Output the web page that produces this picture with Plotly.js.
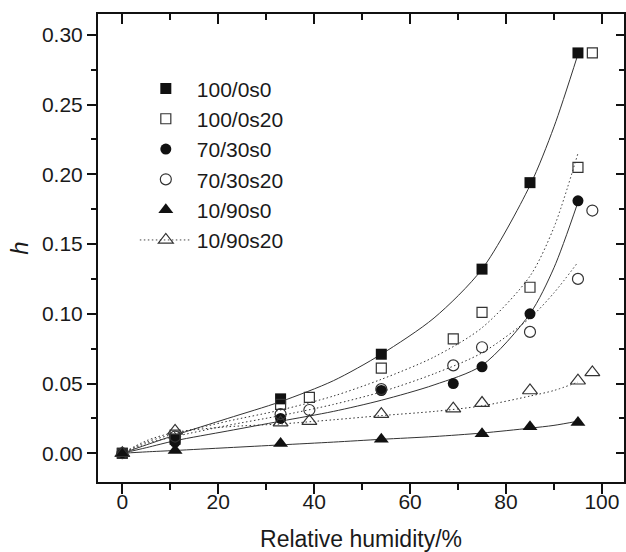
<!DOCTYPE html>
<html>
<head>
<meta charset="utf-8">
<script src="https://cdn.plot.ly/plotly-3.0.1.min.js"></script>
<style>html,body{margin:0;padding:0;background:#fff;}#chart{width:626px;height:552px;}</style>
</head>
<body>
<div id="chart"></div>
<script>
// ---- measured data points ----
const names = ["100/0s0", "100/0s20", "70/30s0", "70/30s20", "10/90s0", "10/90s20"];

const x_100_0s0 = [0, 11, 33, 54, 75, 85, 95];
const y_100_0s0 = [0, 0.010, 0.039, 0.071, 0.132, 0.194, 0.287];

const x_100_0s20 = [0, 11, 33, 39, 54, 69, 75, 85, 95, 98];
const y_100_0s20 = [0, 0.013, 0.035, 0.040, 0.061, 0.082, 0.101, 0.119, 0.205, 0.287];

const x_70_30s0 = [0, 11, 33, 54, 69, 75, 85, 95];
const y_70_30s0 = [0, 0.008, 0.025, 0.045, 0.050, 0.062, 0.100, 0.181];

const x_70_30s20 = [0, 11, 33, 39, 54, 69, 75, 85, 95, 98];
const y_70_30s20 = [0, 0.012, 0.028, 0.031, 0.046, 0.063, 0.076, 0.087, 0.125, 0.174];

const x_10_90s0 = [0, 11, 33, 54, 75, 85, 95];
const y_10_90s0 = [0, 0.002, 0.007, 0.010, 0.014, 0.019, 0.022];

const x_10_90s20 = [0, 11, 33, 39, 54, 69, 75, 85, 95, 98];
const y_10_90s20 = [0, 0.016, 0.022, 0.023, 0.028, 0.032, 0.036, 0.045, 0.052, 0.058];

// ---- fitted curves, values ----
const fitX = [0, 5, 11, 22, 33, 44, 54, 65, 75, 85, 90, 95];
const fit_100_0s0  = [0, 0.006, 0.013, 0.025, 0.037, 0.052, 0.071, 0.097, 0.132, 0.192, 0.234, 0.286];
const fit_100_0s20 = [0, 0.008, 0.014, 0.023, 0.031, 0.041, 0.053, 0.069, 0.090, 0.127, 0.162, 0.215];
const fit_70_30s0  = [0, 0.004, 0.009, 0.016, 0.023, 0.030, 0.038, 0.049, 0.063, 0.100, 0.133, 0.180];
const fit_70_30s20 = [0, 0.007, 0.012, 0.020, 0.027, 0.035, 0.044, 0.057, 0.072, 0.097, 0.115, 0.137];
const fit_10_90s0  = [0, 0.001, 0.002, 0.004, 0.006, 0.008, 0.010, 0.012, 0.0145, 0.018, 0.020, 0.023];
const fit_10_90s20 = [0, 0.009, 0.015, 0.019, 0.021, 0.024, 0.027, 0.030, 0.034, 0.041, 0.045, 0.051];

const xTitle = "Relative humidity/%";
const yTitle = "<i>h</i>";

const FONT = "Liberation Sans, Arial, Helvetica, sans-serif";
const INK = "#1a1a1a";
const DOT = "1.5px,2.5px";

function fit(y, dash) {
  return {x: fitX, y: y, mode: "lines", line: {shape: "spline", smoothing: 0.8, color: "#333", width: 1, dash: dash},
          showlegend: false, hoverinfo: "skip"};
}
function pts(x, y, name, symbol, size, show) {
  const open = symbol.indexOf("open") >= 0;
  return {x: x, y: y, name: name, mode: "markers", showlegend: show,
          marker: {symbol: symbol, size: size, color: open ? "#333" : "#111", line: {width: open ? 1.2 : 0, color: "#333"}}};
}

const traces = [
  fit(fit_100_0s0, "solid"),
  fit(fit_100_0s20, DOT),
  fit(fit_70_30s0, "solid"),
  fit(fit_70_30s20, DOT),
  fit(fit_10_90s0, "solid"),
  fit(fit_10_90s20, DOT),
  pts(x_100_0s0, y_100_0s0, names[0], "square", 11, true),
  pts(x_100_0s20, y_100_0s20, names[1], "square-open", 10, true),
  pts(x_70_30s0, y_70_30s0, names[2], "circle", 11, true),
  pts(x_70_30s20, y_70_30s20, names[3], "circle-open", 11, true),
  pts(x_10_90s0, y_10_90s0, names[4], "triangle-up", 13, true),
  pts(x_10_90s20, y_10_90s20, names[5], "triangle-up-open", 13, false),
  {x: [null], y: [null], name: names[5], mode: "lines+markers",
   line: {color: "#444", width: 1, dash: DOT},
   marker: {symbol: "triangle-up-open", size: 13, color: "#333", line: {width: 1.2, color: "#333"}}},
  {x: [null], y: [null], xaxis: "x2", yaxis: "y2", mode: "markers", showlegend: false, hoverinfo: "skip"}
];

const xr = [-5.07, 104.6], yr = [-0.0206, 0.3149];
const layout = {
  width: 626, height: 552,
  margin: {l: 98, r: 2, t: 14, b: 70},
  paper_bgcolor: "#fff", plot_bgcolor: "#fff",
  font: {family: FONT, color: INK, size: 21},
  showlegend: true,
  legend: {x: 0.07, y: 0.884, xanchor: "left", yanchor: "top", bgcolor: "rgba(0,0,0,0)",
           font: {size: 21, family: FONT, color: INK}, itemwidth: 52, tracegroupgap: 0},
  xaxis: {range: xr, dtick: 20, tick0: 0, ticks: "outside", ticklen: 10, tickwidth: 2, tickcolor: "#111",
          showline: true, linewidth: 2, linecolor: "#111", showgrid: false, zeroline: false, ticklabelstandoff: -10,
          minor: {dtick: 10, tick0: 0, ticks: "outside", ticklen: 6, tickwidth: 2, tickcolor: "#111", showgrid: false},
          tickfont: {size: 21}, title: {text: xTitle, font: {size: 23}, standoff: 19}},
  yaxis: {range: yr, dtick: 0.05, tick0: 0, tickformat: ".2f", ticks: "outside", ticklen: 9, tickwidth: 2, tickcolor: "#111",
          showline: true, linewidth: 2, linecolor: "#111", showgrid: false, zeroline: false,
          minor: {dtick: 0.025, tick0: 0, ticks: "outside", ticklen: 5, tickwidth: 2, tickcolor: "#111", showgrid: false},
          tickfont: {size: 21}, title: {text: yTitle, font: {size: 24}, standoff: 7}},
  xaxis2: {overlaying: "x", side: "top", anchor: "y2", range: xr, dtick: 20, tick0: 0, ticks: "inside", ticklen: 10, tickwidth: 2,
           tickcolor: "#111", showline: true, linewidth: 2, linecolor: "#111", showticklabels: false, showgrid: false, zeroline: false,
           minor: {dtick: 10, tick0: 0, ticks: "inside", ticklen: 6, tickwidth: 2, tickcolor: "#111", showgrid: false}},
  yaxis2: {overlaying: "y", side: "right", anchor: "x2", range: yr, dtick: 0.05, tick0: 0, ticks: "inside", ticklen: 8, tickwidth: 2,
           tickcolor: "#111", showline: true, linewidth: 2, linecolor: "#111", showticklabels: false, showgrid: false, zeroline: false,
           minor: {dtick: 0.025, tick0: 0, ticks: "inside", ticklen: 5, tickwidth: 2, tickcolor: "#111", showgrid: false}}
};

Plotly.newPlot("chart", traces, layout, {staticPlot: true, displayModeBar: false});
</script>
</body>
</html>
